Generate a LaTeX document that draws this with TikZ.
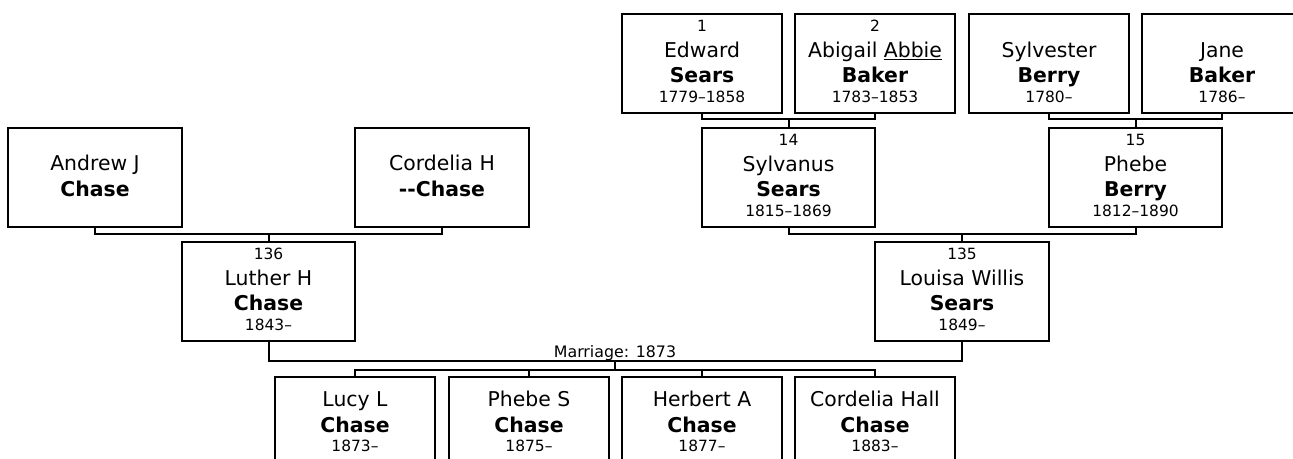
\documentclass[tikz,border=0pt]{standalone}
\usepackage{fontspec}
\setmainfont{DejaVu Sans}
\usetikzlibrary{calc}

\newdimen\pxu \pxu=0.02cm
\newcommand{\numfont}{\fontsize{8.8pt}{10pt}\selectfont}
\newcommand{\namefont}{\fontsize{11.6pt}{13pt}\selectfont}
\newcommand{\pline}[1]{\hbox to 0pt{\hss\smash{#1}\hss}}
%% #1 baseline of given names below the top (px), #2 number, #3 given names, #4 surname, #5 years
\newcommand{\ptext}[5]{\vbox to 98.5\pxu{\offinterlineskip
  \vskip #1\pxu \vskip -26\pxu \pline{\numfont #2}%
  \vskip 26\pxu \pline{\namefont #3}%
  \vskip 25.5\pxu \pline{\namefont\bfseries #4}%
  \vskip 19.5\pxu \pline{\numfont #5}\vfil}}

\begin{document}
\begin{tikzpicture}[
    x=0.02cm, y=-0.02cm,
    pbox/.style={rectangle, draw, line width=0.04cm, inner sep=0pt,
                 minimum width=3.2cm, minimum height=1.97cm},
    wbox/.style={pbox, minimum width=3.47cm},
    link/.style={line width=0.04cm},
    mlbl/.style={font=\fontsize{9pt}{10pt}\selectfont, inner sep=0pt},
]
\useasboundingbox[fill=white] (0,0) rectangle (1293,458);

%% Grootouders (boven)
\node[pbox] (edward)    at (702,63.25)  {\ptext{43}{1}{Edward}{Sears}{1779–1858}};
\node[pbox] (abigail)   at (875,63.25)  {\ptext{43}{2}{Abigail \underline{Abbie}}{Baker}{1783–1853}};
\node[pbox] (sylvester) at (1049,63.25) {\ptext{43}{}{Sylvester}{Berry}{1780–}};
\node[pbox] (jane)      at (1222,63.25) {\ptext{43}{}{Jane}{Baker}{1786–}};

%% Ouders
\node[wbox] (andrew)    at (95,177.5)    {\ptext{42.5}{}{Andrew J}{Chase}{}};
\node[wbox] (cordeliaH) at (442,177.5)   {\ptext{42.5}{}{Cordelia H}{-\kern0pt-Chase}{}};
\node[wbox] (sylvanus)  at (788.5,177.5) {\ptext{43}{14}{Sylvanus}{Sears}{1815–1869}};
\node[wbox] (phebe)     at (1135.5,177.5){\ptext{43}{15}{Phebe}{Berry}{1812–1890}};

%% Echtpaar
\node[wbox] (luther) at (268.5,291.5) {\ptext{43}{136}{Luther H}{Chase}{1843–}};
\node[wbox] (louisa) at (962,291.5)   {\ptext{43}{135}{Louisa Willis}{Sears}{1849–}};

%% Kinderen
\node[pbox] (lucy)     at (355,426.25) {\ptext{29.5}{}{Lucy L}{Chase}{1873–}};
\node[pbox] (phebeS)   at (529,426.25) {\ptext{29.5}{}{Phebe S}{Chase}{1875–}};
\node[pbox] (herbert)  at (702,426.25) {\ptext{29.5}{}{Herbert A}{Chase}{1877–}};
\node[pbox] (cordelia) at (875,426.25) {\ptext{29.5}{}{Cordelia Hall}{Chase}{1883–}};

%% Verbindingen ouders -> kind
\foreach \a/\b/\k/\y in {edward/abigail/sylvanus/119, sylvester/jane/phebe/119,
                         andrew/cordeliaH/luther/233.5, sylvanus/phebe/louisa/233.5}{
  \draw[link] (\a.south) |- (\b.south |- 0,\y) -- (\b.south);
  \draw[link] (\k.north) -- (\k.north |- 0,\y);
}

%% Huwelijk
\draw[link] (luther.south) |- (louisa.south |- 0,360.7) -- (louisa.south);
\node[mlbl, anchor=base] (marriage) at (615,357.7) {Marriage: 1873};
\coordinate (kids) at (615,360.7);
\draw[link] (kids) -- (kids |- 0,369.5);
\draw[link] (lucy.north) |- (cordelia.north |- 0,369.5) -- (cordelia.north);
\foreach \k in {phebeS, herbert}
  \draw[link] (\k.north) -- (\k.north |- 0,369.5);

\end{tikzpicture}
\end{document}
